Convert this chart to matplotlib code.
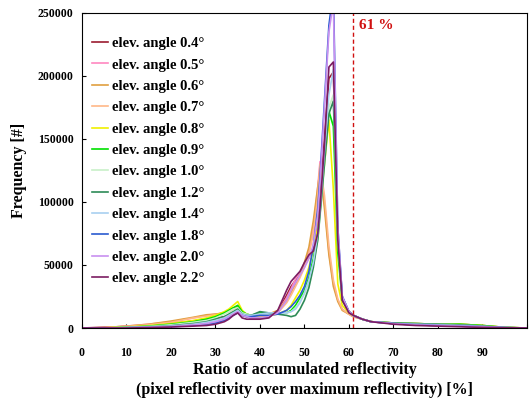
import matplotlib
matplotlib.use("Agg")
import matplotlib.pyplot as plt
import numpy as np

plt.rcParams["font.family"] = ["Liberation Serif", "DejaVu Serif"]
plt.rcParams["font.weight"] = "bold"

# Ratio of accumulated reflectivity [%]
ratio = [0, 5, 10, 15, 20, 25, 28, 30, 32, 33, 34, 35, 36, 37, 38, 40, 42, 44, 46, 47, 48, 49,
         50, 51, 52, 53, 53.5, 54.5, 55.5, 56.5, 57.5, 58.5, 60, 61, 63, 65, 70, 75, 80, 85, 90, 95, 100]

# Frequency per elevation angle, in thousands
freq_04 = [0, 0.6, 1.2, 2, 3.5, 5.5, 7, 8, 9, 10, 12, 13, 10, 9, 8, 8, 9, 13, 26, 33, 38, 44,
           50, 56, 62, 80, 100, 150, 198, 203, 70, 24, 13, 10, 7, 5, 3.5, 2.5, 2, 1.5, 1, 0.3, 0]
freq_05 = [0, 0.3, 1.5, 3, 5, 8, 10, 11, 12, 13, 15, 16, 12, 10, 9, 9, 10, 13, 24, 31, 39, 44,
           50, 60, 78, 112, 132, 100, 60, 35, 22, 15, 11, 9, 7, 5, 4, 3.5, 3, 2.5, 1.5, 0.4, 0]
freq_06 = [0, 0.3, 1.5, 3, 5.5, 8.5, 10.5, 11, 12, 14, 16, 17, 13, 11, 10, 10, 11, 14, 22, 28, 35, 42,
           52, 64, 85, 112, 125, 95, 58, 33, 21, 14, 11, 9, 7, 5, 4, 3.5, 3, 3, 2, 0.5, 0]
freq_07 = [0, 0.2, 1.2, 2.5, 4.5, 8, 9.5, 10.5, 11.5, 13, 15, 16, 12, 10, 9, 9, 10, 12, 20, 26, 33, 40,
           48, 58, 75, 105, 130, 105, 65, 38, 23, 15, 11, 9, 7, 5, 4, 3.5, 3, 3, 2, 0.5, 0]
freq_08 = [0, 0, 0.8, 1.8, 3.5, 6, 8, 10, 13, 15, 18, 21, 14, 11, 10, 10, 10, 11, 14, 18, 24, 30,
           38, 48, 62, 80, 95, 130, 165, 110, 35, 18, 12, 10, 7, 5, 4, 3.5, 3, 3, 2, 0.5, 0]
freq_09 = [0, 0, 0.6, 1.5, 3, 5, 7, 9, 12, 14, 16, 18, 13, 11, 10, 12, 12, 11, 12, 14, 18, 24,
           30, 40, 55, 75, 92, 135, 172, 160, 60, 22, 13, 10, 7, 5, 4, 3.5, 3, 3, 2, 0.5, 0]
freq_10 = [0, 0, 0.5, 1.2, 2.5, 4.5, 6, 8, 11, 13, 15, 16, 12, 11, 10, 11, 11, 11, 12, 13, 16, 21,
           27, 36, 50, 70, 88, 130, 175, 185, 70, 24, 13, 10, 7, 5, 4, 3.5, 3, 2.5, 1.5, 0.4, 0]
freq_12 = [0, 0, 0.3, 0.8, 1.8, 3.5, 5, 7, 9, 11, 13, 15, 11, 10, 10, 13, 12, 11, 10, 9, 10, 15,
           22, 32, 48, 70, 90, 130, 170, 180, 75, 25, 13, 10, 7, 5, 4, 3.5, 3, 2.5, 1.5, 0.4, 0]
freq_14 = [0, 0, 0.3, 0.8, 1.5, 3, 4.5, 6, 8, 10, 12, 14, 11, 10, 10, 11, 12, 12, 12, 13, 15, 20,
           28, 38, 52, 75, 95, 140, 185, 205, 75, 25, 13, 10, 7, 5, 3.5, 3, 2.5, 2, 1.2, 0.3, 0]
freq_18 = [0, 0, 0.2, 0.5, 1, 2, 3, 4, 6, 8, 10, 12, 10, 9, 9, 10, 10, 11, 14, 17, 21, 26,
           33, 45, 65, 95, 120, 180, 240, 268, 80, 25, 13, 10, 7, 5, 3.5, 2.5, 2, 1.5, 1, 0.3, 0]
freq_20 = [0, 0, 0.2, 0.6, 1.2, 2.5, 3.5, 5, 7, 9, 11, 13, 10, 9, 8, 8, 9, 12, 22, 30, 36, 42,
           48, 55, 66, 90, 115, 175, 235, 258, 80, 25, 13, 10, 7, 5, 3.5, 2.5, 2, 1.5, 1, 0.3, 0]
freq_22 = [0, 0, 0, 0.3, 0.8, 1.5, 2, 3, 5, 7, 10, 12, 8, 7, 7, 7, 8, 14, 30, 37, 41, 45,
           52, 58, 61, 75, 95, 145, 207, 211, 70, 22, 12, 10, 7, 5, 3, 2, 1.5, 1, 0.5, 0.2, 0]

labels = ["0.4", "0.5", "0.6", "0.7", "0.8", "0.9", "1.0", "1.2", "1.4", "1.8", "2.0", "2.2"]
series = [freq_04, freq_05, freq_06, freq_07, freq_08, freq_09,
          freq_10, freq_12, freq_14, freq_18, freq_20, freq_22]
colors = ["#9b1b30", "#ff88c0", "#e0a040", "#ffb888", "#f0f000", "#00e000",
          "#c8f0c8", "#2e8b57", "#a8d0f0", "#2a5bd0", "#c890f0", "#7b1c62"]

threshold = 61

fig = plt.figure(figsize=(5.29, 4.01), dpi=100)
ax = fig.add_axes([0.155, 0.182, 0.841, 0.786])

x = np.array(ratio)
for lab, vals, c in zip(labels, series, colors):
    ax.plot(x, np.array(vals) * 1000, color=c, lw=1.2, label=f"elev. angle {lab}°")

ax.axvline(threshold, color="#d01010", ls="--", lw=1.0, dashes=(3, 2))
ax.text(threshold + 1.3, 237000, f"{threshold} %", color="#d01010", fontsize=11, fontweight="bold")

ax.set_xlim(0, 100)
ax.set_ylim(0, 250000)
ax.set_xticks(range(0, 101, 10))
ax.set_xticklabels([str(v) for v in range(0, 100, 10)] + [""])
ax.set_yticks(range(0, 250001, 50000))
ax.tick_params(direction="in", length=3, labelsize=8.5)
ax.tick_params(axis="x", pad=14)
ax.tick_params(axis="y", pad=6)

ax.set_ylabel("Frequency [#]", fontsize=11.5, fontweight="bold", labelpad=8)
ax.set_xlabel("Ratio of accumulated reflectivity\n(pixel reflectivity over maximum reflectivity) [%]",
              fontsize=11.5, fontweight="bold", linespacing=1.35, labelpad=2)

ax.legend(loc="upper left", bbox_to_anchor=(-0.008, 0.965), frameon=False, fontsize=10.5,
          handlelength=1.1, handletextpad=0.3, labelspacing=0.56, borderaxespad=0.5)

fig.savefig("out.png", dpi=100)
